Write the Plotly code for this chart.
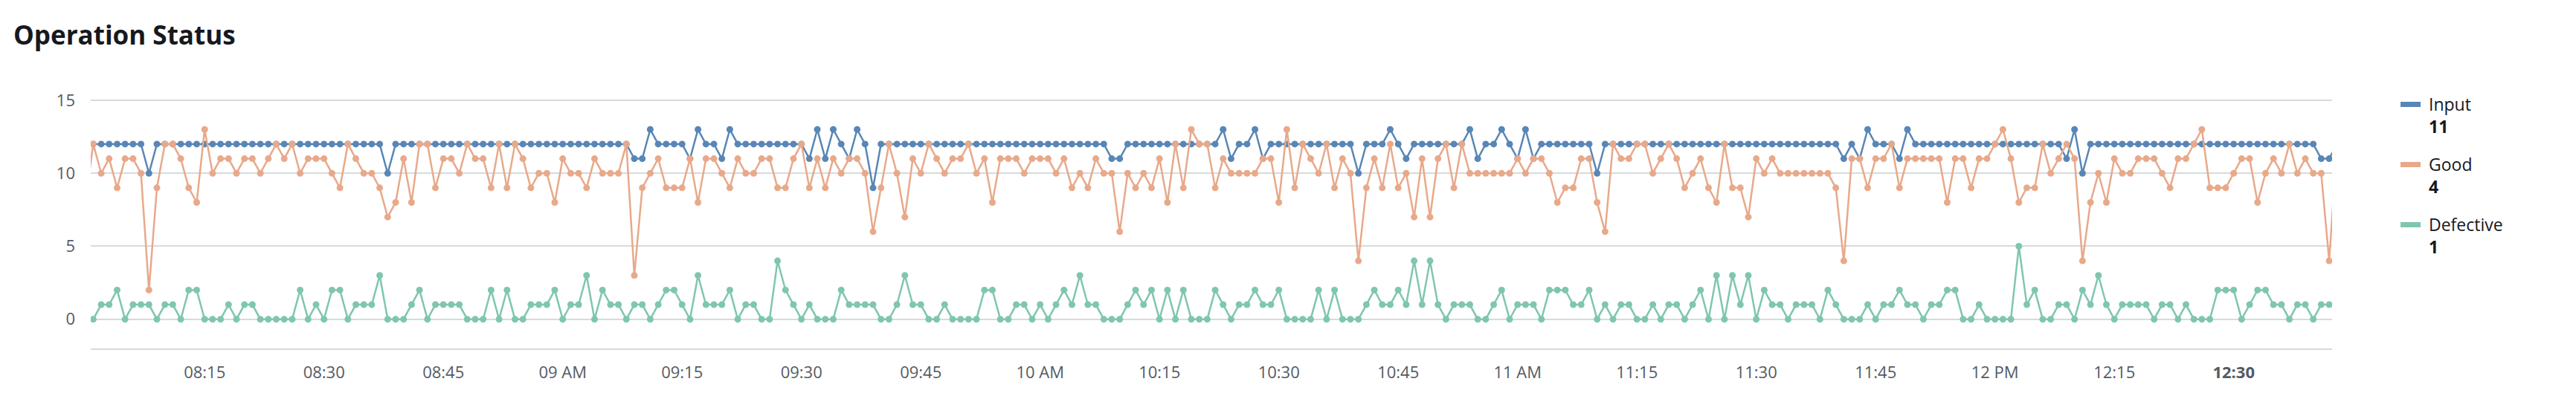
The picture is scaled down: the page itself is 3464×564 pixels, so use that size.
import pandas as pd
import plotly.graph_objects as go

# ---------------- data ----------------
title_text = "Operation Status"
series_names = ["Input", "Good", "Defective"]
series_colors = ["#5886b6", "#e8a98a", "#7fc6b1"]
start_time = "2024-05-20 08:00"   # one reading per minute

input_vals = [
    12,                                   # 08:00
    12, 12, 12, 12, 12, 12, 12, 10, 12, 12,
    12, 12, 12, 12, 12, 12, 12, 12, 12, 12,
    12, 12, 12, 12, 12, 12, 12, 12, 12, 12,
    12, 12, 12, 12, 12, 12, 12, 10, 12, 12,
    12, 12, 12, 12, 12, 12, 12, 12, 12, 12,
    12, 12, 12, 12, 12, 12, 12, 12, 12, 12,
    12, 12, 12, 12, 12, 12, 12, 12, 11, 11,
    13, 12, 12, 12, 12, 11, 13, 12, 12, 11,
    13, 12, 12, 12, 12, 12, 12, 12, 12, 12,
    11, 13, 11, 13, 12, 11, 13, 12, 9, 12,
    12, 12, 12, 12, 12, 12, 12, 12, 12, 12,
    12, 12, 12, 12, 12, 12, 12, 12, 12, 12,
    12, 12, 12, 12, 12, 12, 12, 12, 11, 11,
    12, 12, 12, 12, 12, 12, 12, 12, 12, 12,
    12, 12, 13, 11, 12, 12, 13, 11, 12, 12,
    12, 12, 12, 12, 12, 12, 12, 12, 12, 10,
    12, 12, 12, 13, 12, 11, 12, 12, 12, 12,
    12, 12, 12, 13, 11, 12, 12, 13, 12, 11,
    13, 11, 12, 12, 12, 12, 12, 12, 12, 10,
    12, 12, 12, 12, 12, 12, 12, 12, 12, 12,
    12, 12, 12, 12, 12, 12, 12, 12, 12, 12,
    12, 12, 12, 12, 12, 12, 12, 12, 12, 12,
    11, 12, 11, 13, 12, 12, 12, 11, 13, 12,
    12, 12, 12, 12, 12, 12, 12, 12, 12, 12,
    12, 12, 12, 12, 12, 12, 12, 12, 11, 13,
    10, 12, 12, 12, 12, 12, 12, 12, 12, 12,
    12, 12, 12, 12, 12, 12, 12, 12, 12, 12,
    12, 12, 12, 12, 12, 12, 12, 12, 12, 12,
    11, 11, 12,
]

good_vals = [
    8,                                    # 08:00
    12, 10, 11, 9, 11, 11, 10, 2, 9, 12,
    12, 11, 9, 8, 13, 10, 11, 11, 10, 11,
    11, 10, 11, 12, 11, 12, 10, 11, 11, 11,
    10, 9, 12, 11, 10, 10, 9, 7, 8, 11,
    8, 12, 12, 9, 11, 11, 10, 12, 11, 11,
    9, 12, 9, 12, 11, 9, 10, 10, 8, 11,
    10, 10, 9, 11, 10, 10, 10, 12, 3, 9,
    10, 11, 9, 9, 9, 11, 8, 11, 11, 10,
    9, 11, 10, 10, 11, 11, 9, 9, 11, 12,
    9, 11, 9, 11, 10, 11, 11, 10, 6, 9,
    12, 10, 7, 11, 10, 12, 11, 10, 11, 11,
    12, 10, 11, 8, 11, 11, 11, 10, 11, 11,
    11, 10, 11, 9, 10, 9, 11, 10, 10, 6,
    10, 9, 10, 9, 11, 8, 12, 9, 13, 12,
    12, 9, 11, 10, 10, 10, 10, 11, 11, 8,
    13, 9, 12, 11, 10, 12, 9, 11, 10, 4,
    9, 11, 9, 12, 9, 10, 7, 11, 7, 11,
    12, 9, 12, 10, 10, 10, 10, 10, 10, 11,
    10, 11, 11, 10, 8, 9, 9, 11, 11, 8,
    6, 12, 11, 11, 12, 12, 10, 11, 12, 11,
    9, 10, 11, 9, 8, 12, 9, 9, 7, 11,
    10, 11, 10, 10, 10, 10, 10, 10, 10, 9,
    4, 11, 11, 9, 11, 11, 12, 9, 11, 11,
    11, 11, 11, 8, 11, 11, 9, 11, 11, 12,
    13, 11, 8, 9, 9, 12, 10, 11, 12, 11,
    4, 8, 10, 8, 11, 10, 10, 11, 11, 11,
    10, 9, 11, 11, 12, 13, 9, 9, 9, 10,
    11, 11, 8, 10, 11, 10, 12, 10, 11, 10,
    10, 4, 12,
]

defective_vals = [
    0,                                    # 08:00
    0, 1, 1, 2, 0, 1, 1, 1, 0, 1,
    1, 0, 2, 2, 0, 0, 0, 1, 0, 1,
    1, 0, 0, 0, 0, 0, 2, 0, 1, 0,
    2, 2, 0, 1, 1, 1, 3, 0, 0, 0,
    1, 2, 0, 1, 1, 1, 1, 0, 0, 0,
    2, 0, 2, 0, 0, 1, 1, 1, 2, 0,
    1, 1, 3, 0, 2, 1, 1, 0, 1, 1,
    0, 1, 2, 2, 1, 0, 3, 1, 1, 1,
    2, 0, 1, 1, 0, 0, 4, 2, 1, 0,
    1, 0, 0, 0, 2, 1, 1, 1, 1, 0,
    0, 1, 3, 1, 1, 0, 0, 1, 0, 0,
    0, 0, 2, 2, 0, 0, 1, 1, 0, 1,
    0, 1, 2, 1, 3, 1, 1, 0, 0, 0,
    1, 2, 1, 2, 0, 2, 0, 2, 0, 0,
    0, 2, 1, 0, 1, 1, 2, 1, 1, 2,
    0, 0, 0, 0, 2, 0, 2, 0, 0, 0,
    1, 2, 1, 1, 2, 1, 4, 1, 4, 1,
    0, 1, 1, 1, 0, 0, 1, 2, 0, 1,
    1, 1, 0, 2, 2, 2, 1, 1, 2, 0,
    1, 0, 1, 1, 0, 0, 1, 0, 1, 1,
    0, 1, 2, 0, 3, 0, 3, 1, 3, 0,
    2, 1, 1, 0, 1, 1, 1, 0, 2, 1,
    0, 0, 0, 1, 0, 1, 1, 2, 1, 1,
    0, 1, 1, 2, 2, 0, 0, 1, 0, 0,
    0, 0, 5, 1, 2, 0, 0, 1, 1, 0,
    2, 1, 3, 1, 0, 1, 1, 1, 1, 0,
    1, 1, 0, 1, 0, 0, 0, 2, 2, 2,
    0, 1, 2, 2, 1, 1, 0, 1, 1, 0,
    1, 1, 1,
]

tick_times = pd.date_range("2024-05-20 08:15", "2024-05-20 12:30", freq="15min")
tick_labels = ["08:15", "08:30", "08:45", "09 AM", "09:15", "09:30", "09:45",
               "10 AM", "10:15", "10:30", "10:45", "11 AM", "11:15", "11:30",
               "11:45", "12 PM", "12:15", "<b>12:30</b>"]
y_ticks = [0, 5, 10, 15]

x_start = pd.Timestamp("2024-05-20 08:00:41")
x_end = pd.Timestamp("2024-05-20 12:42:22")

# ---------------- layout geometry ----------------
W, H = 3464, 564
L, R, T, B = 114, 336, 125, 103
PW, PH = W - L - R, H - T - B

def px_x(px):
    return (px - L) / PW

def px_y(py):
    return (H - B - py) / PH

times = pd.date_range(start_time, periods=len(input_vals), freq="min")
all_vals = [input_vals, good_vals, defective_vals]

fig = go.Figure()
for name, vals, col in zip(series_names, all_vals, series_colors):
    fig.add_trace(go.Scatter(
        x=times, y=vals, name=name, mode="lines+markers",
        line=dict(color=col, width=2.5),
        marker=dict(color=col, size=9),
        showlegend=False,
    ))

# latest visible value for legend
last_idx = max(i for i, t in enumerate(times) if t <= x_end)

legend_rows = [132, 213, 294]      # pixel y of the name line
shapes = []
annotations = []
for (name, vals, col), yn in zip(zip(series_names, all_vals, series_colors), legend_rows):
    shapes.append(dict(type="rect", xref="paper", yref="paper",
                       x0=px_x(3220), x1=px_x(3247), y0=px_y(yn - 3), y1=px_y(yn + 4),
                       fillcolor=col, line=dict(width=0)))
    annotations.append(dict(text="%s<br><b>%d</b>" % (name, vals[last_idx]),
                            xref="paper", yref="paper",
                            x=px_x(3256), y=px_y(yn + 14.5), xanchor="left", yanchor="middle",
                            align="left", showarrow=False,
                            font=dict(family="Open Sans", size=23, color="#16191f")))

fig.update_layout(
    width=W, height=H,
    margin=dict(l=L, r=R, t=T, b=B, pad=0),
    plot_bgcolor="white", paper_bgcolor="white",
    showlegend=False,
    font=dict(family="Open Sans", color="#545b64"),
    title=dict(text="<b>%s</b>" % title_text, x=10 / W, xanchor="left",
               y=1 - 40 / H, yanchor="middle",
               font=dict(family="Open Sans", size=35, color="#16191f")),
    shapes=shapes,
    annotations=annotations,
)

fig.update_xaxes(
    type="date", range=[x_start, x_end],
    tickvals=list(tick_times), ticktext=tick_labels,
    showgrid=False, zeroline=False,
    showline=True, linecolor="#d5dbdb", linewidth=2,
    ticks="", ticklabelstandoff=12,
    tickfont=dict(family="Open Sans", size=22, color="#545b64"),
)
fig.update_yaxes(
    range=[-2, 15.1], tickvals=y_ticks,
    showgrid=True, gridcolor="#d5dbdb", gridwidth=2,
    zeroline=False, showline=False, ticks="", ticklabelstandoff=20,
    tickfont=dict(family="Open Sans", size=22, color="#545b64"),
)

fig.write_html("out.html")
